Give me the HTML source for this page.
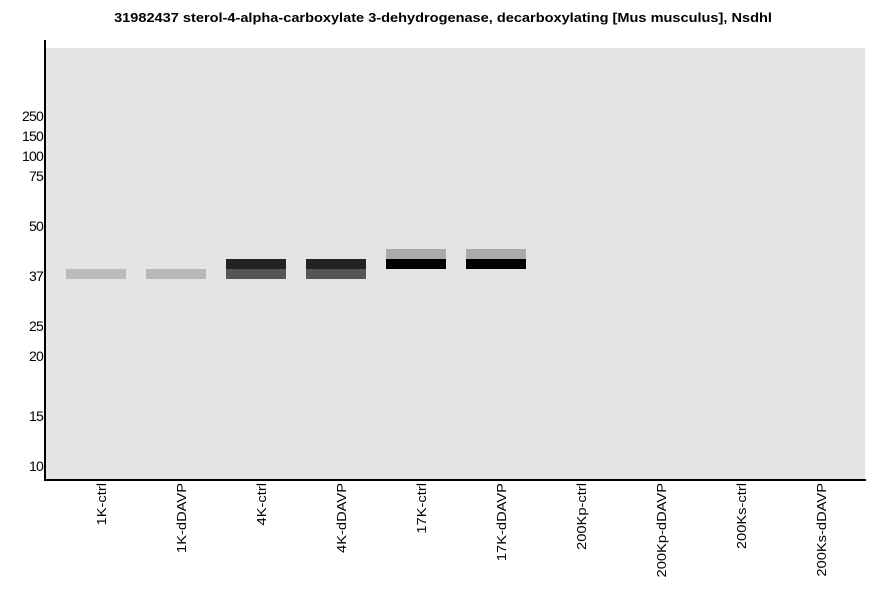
<!DOCTYPE html>
<html><head><style>
body{margin:0;width:886px;height:595px;background:#fff;position:relative;font-family:"Liberation Sans",sans-serif;overflow:hidden}
.t{position:absolute;left:0;width:886px;top:10px;text-align:center;font-weight:bold;font-size:13px;transform:scaleX(1.12)}
.p{position:absolute;left:46px;top:48px;width:819px;height:432px;background:#e3e4e4}
.ax{position:absolute;background:#000}
.y{position:absolute;right:843px;font-size:14px;letter-spacing:-0.8px;line-height:14px}
.b{position:absolute;width:60px;height:10px}
.x{position:absolute;top:483px;transform:scaleY(1.13);transform-origin:50% 0}
.x div{font-size:13px;line-height:14px;writing-mode:vertical-rl;transform:rotate(180deg)}
</style></head><body>
<div class="t">31982437 sterol-4-alpha-carboxylate 3-dehydrogenase, decarboxylating [Mus musculus], Nsdhl</div>
<div class="p"></div>
<div class="ax" style="left:44px;top:40px;width:2px;height:441px"></div>
<div class="ax" style="left:44px;top:479px;width:822px;height:2px"></div>
<div class="y" style="top:109px">250</div>
<div class="y" style="top:129px">150</div>
<div class="y" style="top:149px">100</div>
<div class="y" style="top:169px">75</div>
<div class="y" style="top:219px">50</div>
<div class="y" style="top:269px">37</div>
<div class="y" style="top:319px">25</div>
<div class="y" style="top:349px">20</div>
<div class="y" style="top:409px">15</div>
<div class="y" style="top:459px">10</div>
<div class="b" style="left:66px;top:269px;background:#bbb"></div>
<div class="b" style="left:146px;top:269px;background:#b8b8b8"></div>
<div class="b" style="left:226px;top:259px;background:#222"></div>
<div class="b" style="left:226px;top:269px;background:#555"></div>
<div class="b" style="left:306px;top:259px;background:#222"></div>
<div class="b" style="left:306px;top:269px;background:#555"></div>
<div class="b" style="left:386px;top:249px;background:#aaa"></div>
<div class="b" style="left:386px;top:259px;background:#000"></div>
<div class="b" style="left:466px;top:249px;background:#aaa"></div>
<div class="b" style="left:466px;top:259px;background:#000"></div>
<div class="x" style="left:95px"><div>1K-ctrl</div></div>
<div class="x" style="left:175px"><div>1K-dDAVP</div></div>
<div class="x" style="left:255px"><div>4K-ctrl</div></div>
<div class="x" style="left:335px"><div>4K-dDAVP</div></div>
<div class="x" style="left:415px"><div>17K-ctrl</div></div>
<div class="x" style="left:495px"><div>17K-dDAVP</div></div>
<div class="x" style="left:575px"><div>200Kp-ctrl</div></div>
<div class="x" style="left:655px"><div>200Kp-dDAVP</div></div>
<div class="x" style="left:735px"><div>200Ks-ctrl</div></div>
<div class="x" style="left:815px"><div>200Ks-dDAVP</div></div>
</body></html>
